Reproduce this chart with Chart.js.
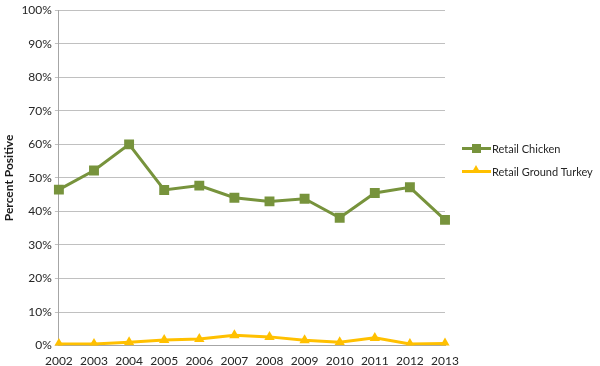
<!DOCTYPE html>
<html lang="en">
<head>
    <meta charset="UTF-8">
    <title>Percent Positive</title>
    <script src="https://cdn.jsdelivr.net/npm/chart.js"></script>
    <style>
        body {
            margin: 0;
            background: #ffffff;
        }
        #chartContainer {
            position: relative;
            width: 600px;
            height: 366px;
        }
        #legend {
            position: absolute;
            left: 462px;
            top: 140px;
            font-family: Lato, "Liberation Sans", sans-serif;
            font-size: 11px;
            color: #262626;
            white-space: nowrap;
        }
        .legendItem {
            display: flex;
            align-items: center;
            height: 16px;
            margin-bottom: 7px;
        }
        .sample {
            position: relative;
            width: 29px;
            height: 3px;
            margin-right: 1px;
        }
        .sample .mark {
            position: absolute;
            left: 10px;
        }
    </style>
</head>
<body>
    <div id="chartContainer">
        <canvas id="resultsChart" width="600" height="366"></canvas>
        <div id="legend"></div>
    </div>
    <script>
        const years = ['2002', '2003', '2004', '2005', '2006', '2007', '2008', '2009', '2010', '2011', '2012', '2013'];
        const chickenValues = [46.5, 52.2, 60.0, 46.4, 47.7, 44.1, 43.0, 43.8, 38.1, 45.5, 47.2, 37.5];
        const turkeyValues = [0.5, 0.5, 1.0, 1.7, 2.0, 3.1, 2.6, 1.6, 1.0, 2.3, 0.5, 0.6];
        const seriesNames = ['Retail Chicken', 'Retail Ground Turkey'];

        const green = '#77933c';
        const yellow = '#ffc000';
        const fontFamily = 'Lato, "Liberation Sans", sans-serif';

        const ctx = document.getElementById('resultsChart').getContext('2d');
        const resultsChart = new Chart(ctx, {
            type: 'line',
            data: {
                labels: years,
                datasets: [{
                    label: seriesNames[0],
                    data: chickenValues,
                    borderColor: green,
                    backgroundColor: green,
                    borderWidth: 3,
                    pointStyle: 'rect',
                    pointRadius: 7,
                    pointBorderWidth: 0,
                    tension: 0
                },
                {
                    label: seriesNames[1],
                    data: turkeyValues,
                    borderColor: yellow,
                    backgroundColor: yellow,
                    borderWidth: 3,
                    pointStyle: 'triangle',
                    pointRadius: 6,
                    pointBorderWidth: 0,
                    tension: 0
                }]
            },
            options: {
                responsive: false,
                animation: false,
                layout: {
                    padding: { top: 7, right: 155, bottom: -2, left: 2 }
                },
                plugins: {
                    legend: { display: false },
                    tooltip: { enabled: false }
                },
                scales: {
                    x: {
                        offset: false,
                        grid: {
                            display: false,
                            drawTicks: true
                        },
                        border: { color: '#a6a6a6' },
                        ticks: {
                            color: '#262626',
                            font: { family: fontFamily, size: 12 },
                            maxRotation: 0,
                            padding: 0
                        }
                    },
                    y: {
                        min: 0,
                        max: 100,
                        grid: {
                            color: '#c0c0c0',
                            tickLength: 4
                        },
                        border: { color: '#a6a6a6' },
                        ticks: {
                            stepSize: 10,
                            color: '#262626',
                            font: { family: fontFamily, size: 12 },
                            padding: 3,
                            callback: function(value) { return value + '%'; }
                        },
                        title: {
                            display: true,
                            text: 'Percent Positive',
                            color: '#1a1a1a',
                            font: { family: fontFamily, size: 12, weight: 'bold' },
                            padding: { top: 0, bottom: 2 }
                        }
                    }
                }
            }
        });

        // leyenda a mano, a la derecha como en el original
        const legend = document.getElementById('legend');
        const legendColors = [green, yellow];
        seriesNames.forEach(function(name, i) {
            const item = document.createElement('div');
            item.className = 'legendItem';
            const sample = document.createElement('div');
            sample.className = 'sample';
            sample.style.background = legendColors[i];
            const mark = document.createElement('div');
            mark.className = 'mark';
            if (i === 0) {
                mark.style.width = '9px';
                mark.style.height = '9px';
                mark.style.top = '-3px';
                mark.style.background = legendColors[i];
            } else {
                mark.style.width = '0';
                mark.style.height = '0';
                mark.style.top = '-5px';
                mark.style.borderLeft = '4px solid transparent';
                mark.style.borderRight = '4px solid transparent';
                mark.style.borderBottom = '7px solid ' + legendColors[i];
            }
            sample.appendChild(mark);
            const label = document.createElement('span');
            label.textContent = name;
            item.appendChild(sample);
            item.appendChild(label);
            legend.appendChild(item);
        });
    </script>
</body>
</html>
